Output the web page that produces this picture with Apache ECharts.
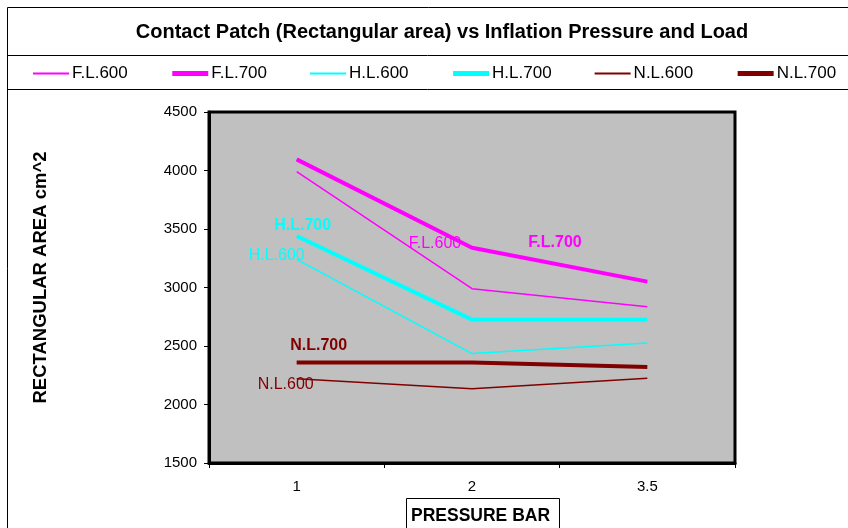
<!DOCTYPE html>
<html><head><meta charset="utf-8">
<script src="https://cdn.jsdelivr.net/npm/echarts@6/dist/echarts.min.js"></script>
<style>html,body{margin:0;padding:0;background:#fff}#c{width:848px;height:528px}</style>
</head><body><div id="c"></div>
<script>
var categories = ['1', '2', '3.5'];
var FL600 = [3990, 2990, 2835];
var FL700 = [4095, 3340, 3050];
var HL600 = [3240, 2435, 2525];
var HL700 = [3440, 2725, 2725];
var NL600 = [2220, 2135, 2225];
var NL700 = [2360, 2360, 2320];
var seriesNames = ['F.L.600', 'F.L.700', 'H.L.600', 'H.L.700', 'N.L.600', 'N.L.700'];
var yTicks = {min: 1500, max: 4500, interval: 500};

var chart = echarts.init(document.getElementById('c'), null, {renderer: 'canvas'});
var FONT = 'Liberation Sans, Arial, sans-serif';

function mk(name, data, color, width, labelIdx, offset, bold) {
  return {
    name: name, type: 'line', data: data.map(function (v, i) {
      if (i === labelIdx) {
        return {value: v, label: {show: true, position: 'inside', offset: offset, formatter: name,
          color: color, fontSize: 16, fontFamily: FONT, fontWeight: bold ? 'bold' : 'normal'}};
      }
      return v;
    }),
    symbol: 'circle', symbolSize: 0, showSymbol: true,
    itemStyle: {color: color},
    lineStyle: {color: color, width: width},
    animation: false, silent: true, z: width > 2 ? 3 : 2
  };
}

var legendData = seriesNames.map(function (n, i) {
  return {name: n, lineStyle: {width: i % 2 ? 5 : 2}, itemStyle: {opacity: 0}};
});

chart.setOption({
  animation: false,
  backgroundColor: '#fff',
  title: {text: 'Contact Patch (Rectangular area) vs Inflation Pressure and Load', left: 437, top: 17, textAlign: 'center',
    textStyle: {fontFamily: FONT, fontSize: 20, fontWeight: 'bold', color: '#000'}},
  legend: {data: legendData, left: 32, top: 65, width: 816, padding: 0, itemWidth: 36, itemHeight: 16, itemGap: 42,
    textStyle: {fontFamily: FONT, fontSize: 17, color: '#000', padding: [0, 0, 0, -2]}},
  grid: {left: 209, right: 113, top: 112, bottom: 65, show: true, backgroundColor: '#c0c0c0', borderColor: '#000', borderWidth: 3},
  xAxis: {type: 'category', data: categories, boundaryGap: true,
    axisLine: {lineStyle: {color: '#000', width: 3}},
    axisTick: {show: true, length: 5, lineStyle: {color: '#000', width: 1}},
    axisLabel: {fontFamily: FONT, fontSize: 15, color: '#000', margin: 16}},
  yAxis: {type: 'value', min: yTicks.min, max: yTicks.max, interval: yTicks.interval,
    name: 'RECTANGULAR AREA cm^2', nameLocation: 'middle', nameGap: 159, nameRotate: 90,
    nameTextStyle: {fontFamily: FONT, fontSize: 18.5, fontWeight: 'bold', color: '#000', padding: [0, 0, 0, 20]},
    axisLine: {show: true, lineStyle: {color: '#000', width: 3}},
    axisTick: {show: true, length: 5, lineStyle: {color: '#000', width: 1}},
    splitLine: {show: false},
    axisLabel: {fontFamily: FONT, fontSize: 15, color: '#000', margin: 12, formatter: function (v) { return String(v); }}},
  graphic: [
    {type: 'rect', shape: {x: 7.5, y: 7.5, width: 850, height: 530}, style: {fill: null, stroke: '#000', lineWidth: 1}, silent: true, z: 0},
    {type: 'line', shape: {x1: 7, y1: 55.5, x2: 848, y2: 55.5}, style: {stroke: '#000', lineWidth: 1}, silent: true},
    {type: 'line', shape: {x1: 7, y1: 89.5, x2: 848, y2: 89.5}, style: {stroke: '#000', lineWidth: 1}, silent: true},
    {type: 'rect', shape: {x: 406.5, y: 498.5, width: 153, height: 40}, style: {fill: '#fff', stroke: '#000', lineWidth: 1}, silent: true},
    {type: 'text', left: 411, top: 507, style: {text: 'PRESSURE BAR', font: 'bold 17.5px Liberation Sans, Arial, sans-serif', fill: '#000'}, silent: true}
  ],
  series: [
    mk('F.L.600', FL600, '#ff00ff', 1.5, 1, [-37, -45], false),
    mk('F.L.700', FL700, '#ff00ff', 4, 1, [83, -5], true),
    mk('H.L.600', HL600, '#00ffff', 1.5, 0, [-20, -4], false),
    mk('H.L.700', HL700, '#00ffff', 4, 0, [6, -10], true),
    mk('N.L.600', NL600, '#800000', 1.5, 0, [-11, 6], false),
    mk('N.L.700', NL700, '#800000', 4, 0, [22, -17], true)
  ]
});
</script></body></html>
